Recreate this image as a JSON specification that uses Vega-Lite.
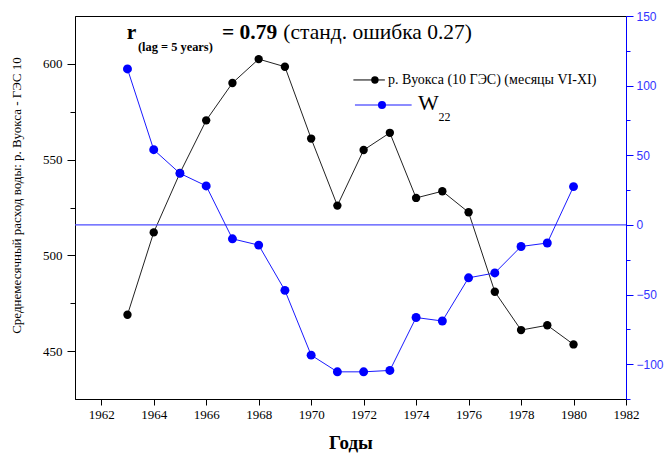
{
  "$schema": "https://vega.github.io/schema/vega-lite/v6.json",
  "width": 551,
  "height": 383,
  "autosize": "none",
  "padding": {"left": 75, "top": 16, "right": 42, "bottom": 54},
  "background": "white",
  "config": {"view": {"stroke": "black", "strokeWidth": 1}, "axis": {"grid": false}},
  "data": {"values": [
    {"year": 1963, "vuoksa": 469, "w22": 112},
    {"year": 1964, "vuoksa": 512, "w22": 54},
    {"year": 1965, "vuoksa": 543, "w22": 37},
    {"year": 1966, "vuoksa": 570.5, "w22": 28},
    {"year": 1967, "vuoksa": 590, "w22": -10},
    {"year": 1968, "vuoksa": 602.5, "w22": -14.5},
    {"year": 1969, "vuoksa": 598.5, "w22": -47},
    {"year": 1970, "vuoksa": 561, "w22": -93.5},
    {"year": 1971, "vuoksa": 526, "w22": -105.5},
    {"year": 1972, "vuoksa": 555, "w22": -105.5},
    {"year": 1973, "vuoksa": 564, "w22": -104.5},
    {"year": 1974, "vuoksa": 530, "w22": -66.5},
    {"year": 1975, "vuoksa": 533.5, "w22": -69},
    {"year": 1976, "vuoksa": 522.5, "w22": -38},
    {"year": 1977, "vuoksa": 481, "w22": -34.5},
    {"year": 1978, "vuoksa": 461, "w22": -15.5},
    {"year": 1979, "vuoksa": 463.5, "w22": -13},
    {"year": 1980, "vuoksa": 453.5, "w22": 27.5}
  ]},
  "layer": [
    {
      "layer": [
        {
          "mark": {"type": "line", "color": "#222222", "strokeWidth": 1},
          "encoding": {
            "x": {
              "field": "year", "type": "quantitative",
              "scale": {"domain": [1961, 1982], "nice": false, "zero": false},
              "axis": {
                "orient": "bottom",
                "values": [1962, 1964, 1966, 1968, 1970, 1972, 1974, 1976, 1978, 1980, 1982],
                "format": "d",
                "labelOverlap": false,
                "labelFlush": false,
                "tickSize": 6,
                "tickColor": "black",
                "domainColor": "black",
                "labelColor": "black",
                "labelFont": "Liberation Serif",
                "labelFontSize": 13,
                "labelPadding": 3,
                "title": "Годы",
                "titleFont": "Liberation Serif",
                "titleFontSize": 19,
                "titleFontWeight": "bold",
                "titleColor": "black",
                "titlePadding": 12
              }
            },
            "y": {
              "field": "vuoksa", "type": "quantitative",
              "scale": {"domain": [425, 625], "nice": false, "zero": false},
              "axis": {
                "orient": "left",
                "values": [450, 500, 550, 600],
                "format": "d",
                "labelOverlap": false,
                "labelFlush": false,
                "tickSize": 8,
                "tickColor": "black",
                "domainColor": "black",
                "labelColor": "black",
                "labelFont": "Liberation Serif",
                "labelFontSize": 13,
                "labelPadding": 5,
                "title": "Среднемесячный расход воды: р. Вуокса - ГЭС 10",
                "titleFont": "Liberation Serif",
                "titleFontSize": 13,
                "titleFontWeight": "normal",
                "titleColor": "black",
                "titlePadding": 19,
                "titleY": 179
              }
            }
          }
        },
        {
          "mark": {"type": "point", "filled": true, "color": "black", "size": 70, "opacity": 1},
          "encoding": {
            "x": {"field": "year", "type": "quantitative"},
            "y": {
              "field": "vuoksa", "type": "quantitative",
              "axis": {
                "orient": "left",
                "values": [475, 525, 575],
                "labels": false,
                "domain": false,
                "tickSize": 5,
                "tickColor": "black",
                "title": null
              }
            }
          }
        },
        {
          "data": {"values": [{}]},
          "mark": {"type": "text", "text": "r", "font": "Liberation Serif", "fontSize": 21.5, "fontWeight": "bold", "align": "left", "baseline": "alphabetic", "color": "black"},
          "encoding": {"x": {"datum": 1962.97}, "y": {"datum": 613, "axis": null}}
        },
        {
          "data": {"values": [{}]},
          "mark": {"type": "text", "text": "(lag = 5 years)", "font": "Liberation Serif", "fontSize": 12.4, "fontWeight": "bold", "align": "left", "baseline": "alphabetic", "color": "black"},
          "encoding": {"x": {"datum": 1963.40}, "y": {"datum": 606.5, "axis": null}}
        },
        {
          "data": {"values": [{}]},
          "mark": {"type": "text", "text": "= 0.79", "font": "Liberation Serif", "fontSize": 21.5, "fontWeight": "bold", "align": "left", "baseline": "alphabetic", "color": "black"},
          "encoding": {"x": {"datum": 1966.6}, "y": {"datum": 613, "axis": null}}
        },
        {
          "data": {"values": [{}]},
          "mark": {"type": "text", "text": "(станд. ошибка 0.27)", "font": "Liberation Serif", "fontSize": 21.5, "fontWeight": "normal", "align": "left", "baseline": "alphabetic", "color": "black"},
          "encoding": {"x": {"datum": 1968.94}, "y": {"datum": 613, "axis": null}}
        },
        {
          "data": {"values": [{}]},
          "mark": {"type": "rule", "color": "black", "strokeWidth": 1},
          "encoding": {"x": {"datum": 1971.61}, "x2": {"datum": 1972.81}, "y": {"datum": 591.6, "axis": null}}
        },
        {
          "data": {"values": [{}]},
          "mark": {"type": "point", "filled": true, "color": "black", "size": 55, "opacity": 1},
          "encoding": {"x": {"datum": 1972.43}, "y": {"datum": 591.6, "axis": null}}
        },
        {
          "data": {"values": [{}]},
          "mark": {"type": "text", "text": "р. Вуокса (10 ГЭС) (месяцы VI-XI)", "font": "Liberation Serif", "fontSize": 14, "align": "left", "baseline": "middle", "color": "black"},
          "encoding": {"x": {"datum": 1972.93}, "y": {"datum": 591.6, "axis": null}}
        },
        {
          "data": {"values": [{}]},
          "mark": {"type": "rule", "color": "#6666ff", "strokeWidth": 1.5},
          "encoding": {"x": {"datum": 1971.67}, "x2": {"datum": 1973.83}, "y": {"datum": 578.5, "axis": null}}
        },
        {
          "data": {"values": [{}]},
          "mark": {"type": "point", "filled": true, "color": "#0000ff", "size": 65, "opacity": 1},
          "encoding": {"x": {"datum": 1972.70}, "y": {"datum": 578.5, "axis": null}}
        },
        {
          "data": {"values": [{}]},
          "mark": {"type": "text", "text": "W", "font": "Liberation Serif", "fontSize": 22, "align": "left", "baseline": "alphabetic", "color": "black"},
          "encoding": {"x": {"datum": 1974.07}, "y": {"datum": 575.9, "axis": null}}
        },
        {
          "data": {"values": [{}]},
          "mark": {"type": "text", "text": "22", "font": "Liberation Serif", "fontSize": 12, "align": "left", "baseline": "alphabetic", "color": "black"},
          "encoding": {"x": {"datum": 1974.85}, "y": {"datum": 570.2, "axis": null}}
        }
      ],
      "resolve": {"axis": {"y": "independent"}}
    },
    {
      "layer": [
        {
          "data": {"values": [{}]},
          "mark": {"type": "rule", "color": "#4d4dff", "strokeWidth": 1.2},
          "encoding": {"y": {"datum": 0, "axis": null}}
        },
        {
          "mark": {"type": "line", "color": "#1a1aff", "strokeWidth": 1},
          "encoding": {
            "x": {"field": "year", "type": "quantitative"},
            "y": {
              "field": "w22", "type": "quantitative",
              "scale": {"domain": [-125, 150], "nice": false, "zero": false},
              "axis": {
                "orient": "right",
                "values": [-100, -50, 0, 50, 100, 150],
                "format": "d",
                "labelOverlap": false,
                "labelFlush": false,
                "tickSize": 7,
                "tickColor": "#0000ff",
                "domainColor": "#0000ff",
                "labelColor": "#3333ff",
                "labelFont": "Liberation Sans",
                "labelFontSize": 12,
                "labelPadding": 3,
                "title": null
              }
            }
          }
        },
        {
          "mark": {"type": "point", "filled": true, "color": "#0000ff", "size": 80, "opacity": 1},
          "encoding": {
            "x": {"field": "year", "type": "quantitative"},
            "y": {
              "field": "w22", "type": "quantitative",
              "axis": {
                "orient": "right",
                "values": [-125, -75, -25, 25, 75, 125],
                "labels": false,
                "domain": false,
                "tickSize": 4,
                "tickColor": "#0000ff",
                "title": null
              }
            }
          }
        }
      ],
      "resolve": {"axis": {"y": "independent"}}
    }
  ],
  "resolve": {"scale": {"y": "independent"}}
}
